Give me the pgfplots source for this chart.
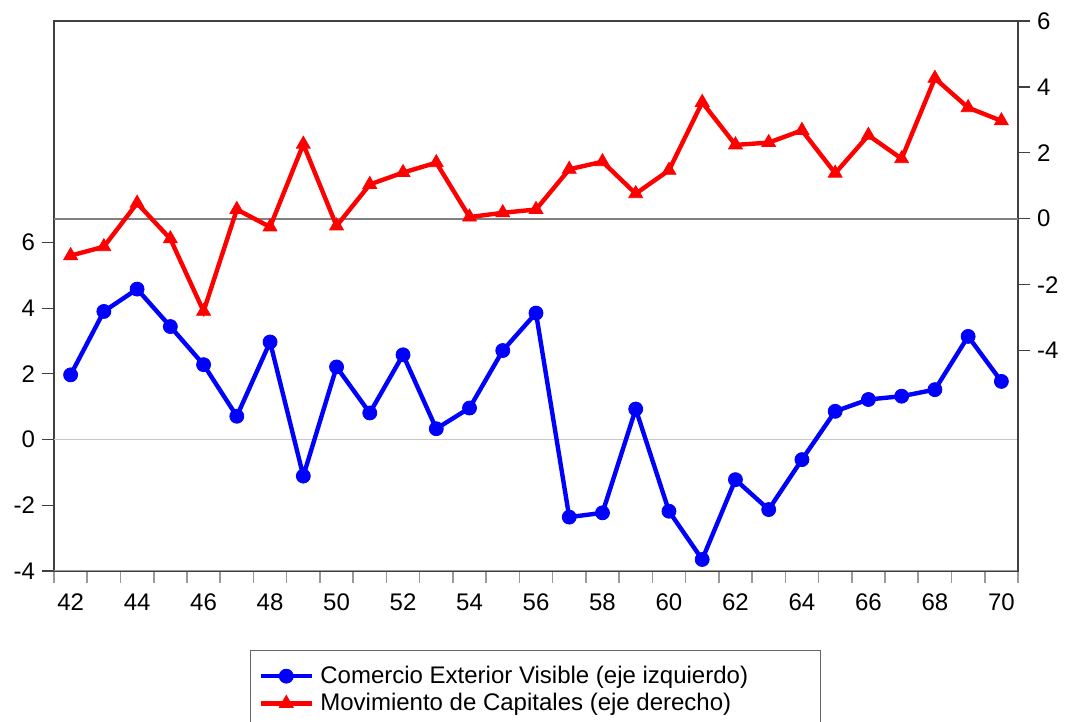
\documentclass[border=0pt]{standalone}
\usepackage{pgfplots}
\usepackage{pgfplotstable}
\pgfplotsset{compat=1.18}
\usepackage{fontspec}
\setmainfont{Liberation Sans}

% year, comercio exterior visible (left), movimiento de capitales (right)
\pgfplotstableread{
year ce    mc
42   1.97  -1.12
43   3.90  -0.85
44   4.58   0.47
45   3.44  -0.61
46   2.28  -2.81
47   0.71   0.28
48   2.97  -0.25
49  -1.11   2.26
50   2.21  -0.22
51   0.81   1.04
52   2.58   1.40
53   0.33   1.70
54   0.96   0.05
55   2.71   0.18
56   3.85   0.28
57  -2.36   1.50
58  -2.23   1.73
59   0.93   0.76
60  -2.18   1.47
61  -3.65   3.53
62  -1.22   2.24
63  -2.13   2.31
64  -0.61   2.68
65   0.86   1.38
66   1.22   2.53
67   1.32   1.82
68   1.52   4.26
69   3.14   3.37
70   1.77   2.97
}\datos

\begin{document}
\begin{tikzpicture}
\pgfplotsset{
  base/.style={
    width=482pt, height=275pt, scale only axis,
    xmin=41.5, xmax=70.5,
    /pgf/number format/assume math mode=true,
    tick label style={font=\fontsize{12}{14}\selectfont},
    tick align=outside,
    major tick length=6pt, minor tick length=6pt,
    axis line style={draw=black!75, line width=0.8pt},
    tick style={black!75, line width=0.6pt},
  },
  serie/.style={line width=2.2pt, mark size=3.5pt, mark options={solid, line width=0.4pt}},
}
\begin{axis}[base, name=ax,
  ymin=-4, ymax=12.74,
  ytick={-4,-2,...,6}, ytick pos=left,
  xtick={42,44,...,70}, xtick pos=bottom,
  major x tick style={draw=none},
  minor xtick={41.5,42.5,...,70.5},
  minor x tick style={black!40, line width=0.8pt},
  xticklabel style={yshift=-2pt},
]
\draw[black!22, line width=0.6pt] (axis cs:41.5,0) -- (axis cs:70.5,0);
\draw[black!40, line width=1.2pt] (axis cs:41.5,-4) -- (axis cs:70.5,-4);
\addplot[serie, blue, mark=*] table[x=year, y=ce] {\datos};
\end{axis}
\begin{axis}[base,
  ymin=-10.69, ymax=6,
  ytick={-4,-2,...,6},
  axis y line*=right, axis x line=none,
  legend style={at={(0.2033,-0.1436)}, anchor=north west,
    draw=black!60, line width=0.6pt,
    font=\fontsize{12}{14}\selectfont,
    inner xsep=4pt, inner ysep=6pt,
    nodes={inner sep=1.7pt}},
  legend cell align=left,
  legend image code/.code={\draw[mark repeat=2, mark phase=2]
    plot coordinates {(0pt,0pt) (12.75pt,0pt) (25.5pt,0pt)};},
]
\draw[black!50, line width=0.8pt] (axis cs:41.5,0) -- (axis cs:70.5,0);
\addlegendimage{serie, blue, mark=*}
\addlegendentry{\makebox[246pt][l]{\hspace{1.5pt}Comercio Exterior Visible (eje izquierdo)}}
\addplot[serie, red, mark=triangle*, mark size=4pt] table[x=year, y=mc] {\datos};
\addlegendentry{\makebox[246pt][l]{\hspace{1.5pt}Movimiento de Capitales (eje derecho)}}
\end{axis}
\pgfresetboundingbox
\useasboundingbox ([shift={(-27pt,-75.5pt)}]ax.south west) rectangle ([shift={(23.5pt,10.5pt)}]ax.north east);
\end{tikzpicture}
\end{document}
